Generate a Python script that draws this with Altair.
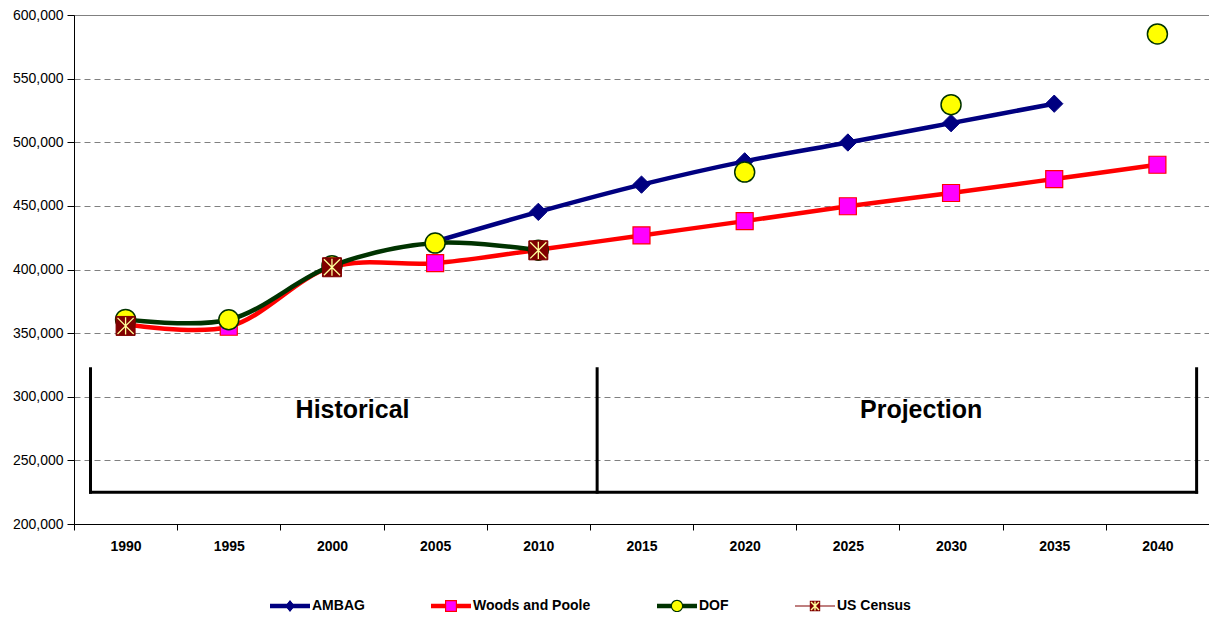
import altair as alt
import pandas as pd

# ---------------- data ----------------
years = [1990, 1995, 2000, 2005, 2010, 2015, 2020, 2025, 2030, 2035, 2040]
series_names = ["AMBAG", "Woods and Poole", "DOF", "US Census"]
ambag = [None, None, None, 422000, 445300, 466700, 485000, 499800, 515000, 530300, None]
woods_poole = [357000, 355000, 402000, 405000, 415500, 426800, 438000, 449700, 460100, 471100, 482300]
dof = [360800, 360500, 403000, 420800, 415200, None, 476600, None, 529500, None, 585100]
us_census = [355660, None, 401762, None, 415057, None, None, None, None, None, None]
y_ticks = [200000, 250000, 300000, 350000, 400000, 450000, 500000, 550000, 600000]

# annotation (data space)
bracket_years = [1988.3, 2012.85, 2041.9]
bracket_low = 225000
bracket_high = 322000
period_labels = ["Historical", "Projection"]
period_label_years = [2001.0, 2028.55]
period_label_value = 283000

FONT = "Liberation Sans"
line_colors = ["#000080", "#FF0000", "#003300", "#800000"]
fill_colors = ["#000080", "#FF00FF", "#FFFF00", "#800000"]
CENSUS_X = "#FFFF99"

values_by_series = dict(zip(series_names, [ambag, woods_poole, dof, us_census]))


def points_df(name):
    vals = values_by_series[name]
    return pd.DataFrame([{"series": name, "year": y, "value": v}
                         for y, v in zip(years, vals) if v is not None])


def line_df(name):
    # Excel-like: gaps break the line, single points get no line
    vals = values_by_series[name]
    rows, seg, run = [], 0, []
    for y, v in zip(years + [None], vals + [None]):
        if v is None:
            if len(run) > 1:
                rows += [{"series": name, "year": a, "value": b, "seg": seg} for a, b in run]
            seg += 1
            run = []
        else:
            run.append((y, v))
    return pd.DataFrame(rows)


# ---------------- scales / axes ----------------
x_vals = [y - 2.5 for y in years] + [years[-1] + 2.5]
xscale = alt.Scale(domain=[x_vals[0], x_vals[-1]], nice=False, zero=False)
yscale = alt.Scale(domain=[y_ticks[0], y_ticks[-1]], nice=False, zero=False)

W, H = 1135, 509
TOP = 7
step = W / len(years)

xaxis = alt.Axis(values=x_vals, title=None, grid=False,
                 labelExpr="datum.value < %d ? format(datum.value + 2.5, 'd') : ''" % years[-1],
                 labelOffset=step / 2, labelFlush=False, labelOverlap=False,
                 labelFont=FONT, labelFontSize=14, labelFontWeight="bold", labelColor="black",
                 labelPadding=9, tickSize=6, tickColor="black", domainColor="black")
yaxis = alt.Axis(values=y_ticks, title=None, format=",d", grid=True,
                 gridDash=[6, 4], gridColor="#808080", gridWidth=1,
                 labelFont=FONT, labelFontSize=14, labelColor="black", labelPadding=4,
                 labelFlush=False, labelOverlap=False,
                 tickSize=7, tickColor="black", domainColor="black")


def X(field):
    return alt.X(field, scale=xscale, axis=xaxis)


def Y(field):
    return alt.Y(field, scale=yscale, axis=yaxis)


# ---------------- legend symbols ----------------
# every legend symbol shares the same (invisible, zero-length) bounds so the two
# stacked legends line up entry by entry
BOUNDS = "M-2,-0.65L-2,-0.65M2,0.65L2,0.65"
THICK = "M-2,-0.22H2V0.22H-2Z"
THIN = "M-2,-0.06H2V0.06H-2Z"
D = 0.05
X_FILLED = ("M%s,%sL%s,%sL%s,%sL%s,%sZ" % (-0.4 + D, -0.4 - D, 0.4 + D, 0.4 - D, 0.4 - D, 0.4 + D, -0.4 - D, -0.4 + D)
            + "M%s,%sL%s,%sL%s,%sL%s,%sZ" % (0.4 + D, -0.4 + D, -0.4 + D, 0.4 + D, -0.4 - D, 0.4 - D, 0.4 - D, -0.4 - D)
            + "M-0.07,-0.46H0.07V0.46H-0.07Z")
legend_shapes_under = [  # line + marker outline, in the line colour
    BOUNDS + THICK + "M0,-0.58L0.47,0L0,0.58L-0.47,0Z",
    BOUNDS + THICK + "M-0.6,-0.6H0.6V0.6H-0.6Z",
    BOUNDS + THICK + "M-0.62,0A0.62,0.62,0,1,1,0.62,0A0.62,0.62,0,1,1,-0.62,0Z",
    BOUNDS + THIN + "M-0.52,-0.52H0.52V0.52H-0.52Z",
]
legend_shapes_over = [  # marker interior, in the marker fill colour
    BOUNDS + "M0,-0.58L0.47,0L0,0.58L-0.47,0Z",
    BOUNDS + "M-0.48,-0.48H0.48V0.48H-0.48Z",
    BOUNDS + "M-0.5,0A0.5,0.5,0,1,1,0.5,0A0.5,0.5,0,1,1,-0.5,0Z",
    BOUNDS + X_FILLED,
]
legend_over_colors = fill_colors[:3] + [CENSUS_X]

legend_common = dict(orient="none", legendX=206, legendY=606 - 10 - (8 + TOP),
                     direction="horizontal", title=None, labelFont=FONT, labelFontSize=14,
                     labelFontWeight="bold", labelOffset=12, columnPadding=66,
                     symbolSize=400, padding=0, labelLimit=300, symbolOpacity=1,
                     symbolStrokeWidth=0, symbolStrokeColor="transparent")

legend_under = alt.Legend(**legend_common, labelColor="black")
legend_over = alt.Legend(**legend_common, labelColor="transparent", labelOpacity=0)

# ---------------- layers ----------------
layers = []

rule_rows = [{"x": bx, "x2": bx, "y": bracket_low, "y2": bracket_high} for bx in bracket_years]
rule_rows.append({"x": bracket_years[0], "x2": bracket_years[-1], "y": bracket_low, "y2": bracket_low})
layers.append(alt.Chart(pd.DataFrame(rule_rows)).mark_rule(
    color="black", strokeWidth=3, strokeCap="square").encode(
    x=X("x:Q"), x2="x2:Q", y=Y("y:Q"), y2="y2:Q"))

layers.append(alt.Chart(pd.DataFrame({"label": period_labels, "x": period_label_years,
                                      "y": [period_label_value] * 2})).mark_text(
    font=FONT, fontSize=25, fontWeight="bold", color="black", baseline="alphabetic",
    align="center").encode(x=X("x:Q"), y=Y("y:Q"), text="label:N"))

marker_styles = {
    "AMBAG": dict(shape="diamond", size=300, fill="#000080", stroke="#000080", strokeWidth=1),
    "Woods and Poole": dict(shape="square", size=289, fill="#FF00FF", stroke="#FF0000", strokeWidth=1.2),
    "DOF": dict(shape="circle", size=400, fill="#FFFF00", stroke="#003300", strokeWidth=1.5),
    "US Census": dict(shape="square", size=361, fill="#800000", stroke="#800000", strokeWidth=1),
}

for name, lc in zip(series_names, line_colors):
    ldf = line_df(name)
    if len(ldf):
        layers.append(alt.Chart(ldf).mark_line(
            interpolate="catmull-rom", strokeWidth=4.5, strokeJoin="round", strokeCap="round",
            stroke=lc).encode(x=X("year:Q"), y=Y("value:Q"), detail="seg:N"))
    layers.append(alt.Chart(points_df(name)).mark_point(
        filled=True, opacity=1, **marker_styles[name]).encode(x=X("year:Q"), y=Y("value:Q")))

cdf = points_df("US Census")
layers.append(alt.Chart(cdf).mark_point(
    shape="M-0.85,-0.85L0.85,0.85M-0.85,0.85L0.85,-0.85M0,-0.9V0.9",
    size=361, filled=False, stroke=CENSUS_X, strokeWidth=1.3, opacity=1).encode(
    x=X("year:Q"), y=Y("value:Q")))

# legend-only layers (no rows; the scales' explicit domains drive the legends)
empty = pd.DataFrame({"series": pd.Series([], dtype=str)})
layers.append(alt.Chart(empty).mark_point(filled=True, opacity=1, strokeWidth=0).encode(
    shape=alt.Shape("series:N", scale=alt.Scale(domain=series_names, range=legend_shapes_under),
                    legend=legend_under),
    fill=alt.Fill("series:N", scale=alt.Scale(domain=series_names, range=line_colors),
                  legend=legend_under),
))
layers.append(alt.Chart(empty).mark_point(filled=True, opacity=1, strokeWidth=0).encode(
    shape=alt.Shape("series:N", scale=alt.Scale(domain=series_names, range=legend_shapes_over),
                    legend=legend_over),
    fill=alt.Fill("series:N", scale=alt.Scale(domain=series_names, range=legend_over_colors),
                  legend=legend_over),
))

chart = alt.layer(*layers).resolve_scale(shape="independent", fill="independent").properties(
    width=W, height=H,
    autosize=alt.AutoSizeParams(type="none"),
    padding={"left": 66, "top": TOP, "right": 0, "bottom": 604 - TOP - H},
    background="white",
).configure_view(stroke="#808080", strokeWidth=1)

chart.save("out.html", embed_options={"renderer": "svg", "actions": False})
